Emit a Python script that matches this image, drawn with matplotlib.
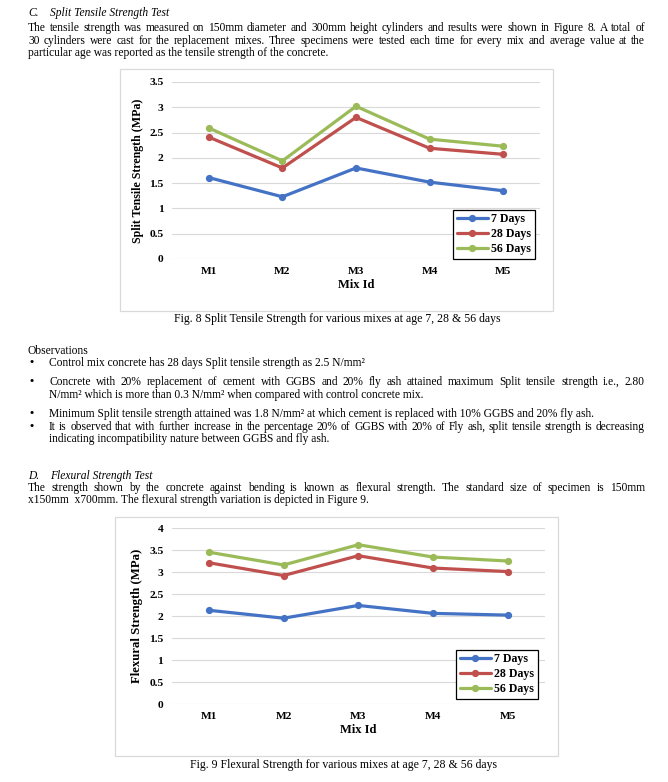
import matplotlib
matplotlib.use("Agg")
import matplotlib.pyplot as plt
from matplotlib.font_manager import FontProperties
from matplotlib.patches import Rectangle

# ---------------- data ----------------
mixes = ["M1", "M2", "M3", "M4", "M5"]
series_names = ["7 Days", "28 Days", "56 Days"]
split_7 = [1.61, 1.23, 1.80, 1.52, 1.35]
split_28 = [2.41, 1.80, 2.80, 2.19, 2.07]
split_56 = [2.59, 1.94, 3.02, 2.37, 2.23]
flex_7 = [2.13, 1.95, 2.24, 2.06, 2.02]
flex_28 = [3.21, 2.92, 3.37, 3.09, 3.01]
flex_56 = [3.45, 3.16, 3.62, 3.34, 3.25]
split_ticks = [0, 0.5, 1, 1.5, 2, 2.5, 3, 3.5]
flex_ticks = [0, 0.5, 1, 1.5, 2, 2.5, 3, 3.5, 4]
colors = ["#4472C4", "#C0504D", "#9BBB59"]

W, H = 668, 782
plt.rcParams["font.family"] = ["Liberation Serif", "DejaVu Serif"]
fig = plt.figure(figsize=(W / 100, H / 100), dpi=100)
fig.patch.set_facecolor("white")

bg = fig.add_axes([0, 0, 1, 1])
bg.set_xlim(0, W)
bg.set_ylim(H, 0)
bg.axis("off")

FS = 8.3
reg = FontProperties(family="Liberation Serif", size=FS)
ita = FontProperties(family="Liberation Serif", size=FS, style="italic")
bul = FontProperties(family="Liberation Serif", size=FS, weight="bold")
cap = FontProperties(family="Liberation Serif", size=8.5)
renderer = fig.canvas.get_renderer()

LM, RM = 28, 645
BX, TX = 30, 49


def txt(x, y, s, prop=reg, ha="left"):
    bg.text(x, y, s, fontproperties=prop, ha=ha, va="center", color="black")


def justify(x0, x1, y, s, prop=reg):
    words = s.split(" ")
    widths = [renderer.get_text_width_height_descent(w, prop, ismath=False)[0] for w in words]
    gap = (x1 - x0 - sum(widths)) / (len(words) - 1)
    x = x0
    for w, wd in zip(words, widths):
        bg.text(x, y, w, fontproperties=prop, ha="left", va="center", color="black")
        x += wd + gap


# ---------------- text ----------------
txt(LM, 13, "C.", ita)
txt(50, 13, "Split Tensile Strength Test", ita)
justify(LM, RM, 28, "The tensile strength was measured on 150mm diameter and 300mm height cylinders and results were shown in Figure 8. A total of")
justify(LM, RM, 41, "30 cylinders were cast for the replacement mixes. Three specimens were tested each time for every mix and average value at the")
txt(LM, 53, "particular age was reported as the tensile strength of the concrete.")

txt(337, 319, "Fig. 8 Split Tensile Strength for various mixes at age 7, 28 & 56 days", cap, ha="center")

txt(LM, 351, "Observations")
for yb in [363, 382, 414, 427]:
    txt(BX, yb, "•", bul)
txt(TX, 363, "Control mix concrete has 28 days Split tensile strength as 2.5 N/mm²")
justify(TX, RM, 382, "Concrete with 20% replacement of cement with GGBS and 20% fly ash attained maximum Split tensile strength i.e., 2.80")
txt(TX, 395, "N/mm² which is more than 0.3 N/mm² when compared with control concrete mix.")
txt(TX, 414, "Minimum Split tensile strength attained was 1.8 N/mm² at which cement is replaced with 10% GGBS and 20% fly ash.")
justify(TX, RM, 427, "It is observed that with further increase in the percentage 20% of GGBS with 20% of Fly ash, split tensile strength is decreasing")
txt(TX, 439, "indicating incompatibility nature between GGBS and fly ash.")

txt(LM, 476, "D.", ita)
txt(50, 476, "Flexural Strength Test", ita)
justify(LM, RM, 488, "The strength shown by the concrete against bending is known as flexural strength. The standard size of specimen is 150mm")
txt(LM, 500, "x150mm  x700mm. The flexural strength variation is depicted in Figure 9.")

txt(343, 765, "Fig. 9 Flexural Strength for various mixes at age 7, 28 & 56 days", cap, ha="center")

# chart frames
bg.add_patch(Rectangle((120, 69), 553 - 120, 311 - 69, fill=False, edgecolor="#d9d9d9", lw=0.9))
bg.add_patch(Rectangle((115, 517), 558 - 115, 756 - 517, fill=False, edgecolor="#d9d9d9", lw=0.9))


def px_rect(l, r, t, b):
    return [l / W, (H - b) / H, (r - l) / W, (b - t) / H]


def chart(rect, data, yticks, ylabel, ylab_size, legend_corner):
    ax = fig.add_axes(rect)
    ax.set_facecolor("none")
    x = list(range(len(mixes)))
    handles = []
    for vals, c, name in zip(data, colors, series_names):
        h, = ax.plot(x, vals, color=c, lw=2.3, marker="o", ms=4.2, label=name, solid_capstyle="round")
        handles.append(h)
    ax.set_xlim(-0.5, len(mixes) - 0.5)
    ax.set_ylim(yticks[0], yticks[-1])
    ax.set_yticks(yticks)
    ax.set_yticklabels([f"{t:g}" for t in yticks])
    ax.set_xticks(x)
    ax.set_xticklabels(mixes)
    ax.yaxis.grid(True, color="#d9d9d9", lw=0.8)
    ax.set_axisbelow(True)
    for s in ax.spines.values():
        s.set_visible(False)
    ax.tick_params(axis="both", length=0, labelsize=8.2)
    ax.tick_params(axis="y", pad=6)
    ax.tick_params(axis="x", pad=6)
    for lab in ax.get_xticklabels() + ax.get_yticklabels():
        lab.set_fontweight("bold")
    ax.set_xlabel("Mix Id", fontsize=9, fontweight="bold", labelpad=2)
    ax.set_ylabel(ylabel, fontsize=ylab_size, fontweight="bold", labelpad=4)
    r, b = legend_corner
    leg = ax.legend(handles=handles, loc="lower right",
                    bbox_to_anchor=(r / W, (H - b) / H),
                    bbox_transform=fig.transFigure,
                    frameon=True, fancybox=False, framealpha=1, edgecolor="black",
                    prop=FontProperties(family="Liberation Serif", size=8.6, weight="bold"),
                    handlelength=2.6, handletextpad=0.3, borderpad=0.3, labelspacing=0.25,
                    borderaxespad=0)
    leg.get_frame().set_linewidth(0.9)
    return ax


chart(px_rect(172, 540, 82, 259), [split_7, split_28, split_56], split_ticks,
      "Split Tensile Strength (MPa)", 8.6, (535, 259))
chart(px_rect(171.6, 545, 528, 704), [flex_7, flex_28, flex_56], flex_ticks,
      "Flexural Strength (MPa)", 9.2, (538, 699))

fig.savefig("out.png", dpi=100, facecolor="white")
